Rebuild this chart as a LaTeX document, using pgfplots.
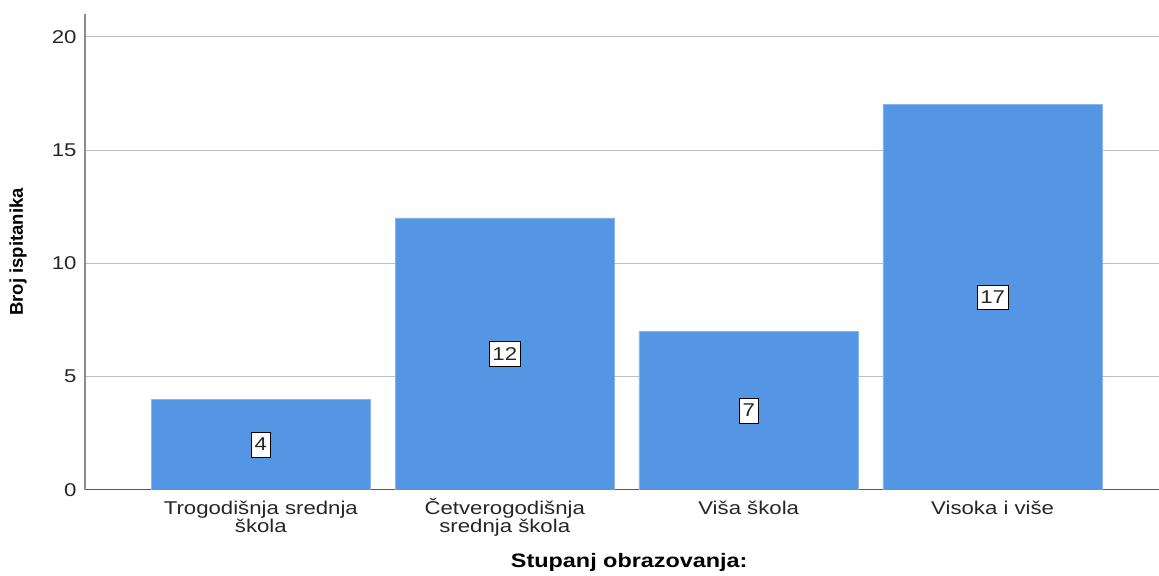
\documentclass[border=0pt]{standalone}
\usepackage{pgfplots}
\pgfplotsset{compat=1.18}
\usetikzlibrary{calc}
\usepackage{fontspec}
\setmainfont{Liberation Sans}
\newfontfamily\wide[FakeStretch=1.2]{Liberation Sans}
\definecolor{barblue}{RGB}{85,150,228}
\definecolor{gridgray}{RGB}{190,190,190}
\begin{document}
\begin{tikzpicture}
\begin{axis}[
    scale only axis,
    width=1074pt, height=476pt,
    xmin=-0.721, xmax=3.68,
    ymin=0, ymax=21,
    axis x line*=bottom, axis y line*=left,
    x axis line style={-, draw=black!65, line width=1pt},
    y axis line style={-, draw=black!45, line width=1.3pt},
    ytick={0,5,10,15,20},
    xtick={0,1,2,3},
    xticklabels={{\vphantom{Č}Trogodišnja srednja\\škola},{Četverogodišnja\\srednja škola},{\vphantom{Č}Viša škola},{\vphantom{Č}Visoka i više}},
    xticklabel style={align=center, text=black!85},
    yticklabel style={text=black!85},
    major tick length=0pt,
    ymajorgrids, grid style={gridgray, line width=0.8pt},
    tick label style={font=\wide\fontsize{18.5}{16.5}\selectfont},
    /pgf/number format/assume math mode=true,
    xticklabel shift=5pt, yticklabel shift=5pt,
    xlabel={\wide\bfseries Stupanj obrazovanja:},
    ylabel={\bfseries Broj ispitanika},
    xlabel style={font=\fontsize{19.5}{20}\selectfont, at={(rel axis cs:0.507,0)}, anchor=center, yshift=-73pt},
    ylabel style={font=\fontsize{18.5}{20}\selectfont, at={($(rel axis cs:0,0.5)+(-67pt,0)$)}, anchor=center},
]
\addplot[ybar, bar width=0.9, fill=barblue, draw=barblue!70!white, line width=0.5pt] coordinates {(0,4) (1,12) (2,7) (3,17)};
\addplot[draw=none, mark=none, nodes near coords, point meta=explicit symbolic,
    every node near coord/.append style={anchor=center, fill=white, draw=black, line width=0.6pt,
        inner xsep=3pt, inner ysep=6pt, font=\wide\fontsize{18.5}{18}\selectfont, text=black!85}]
    table[meta=lab] {
x y lab
0 2 4
1 6 12
2 3.5 7
3 8.5 17
};
\end{axis}
\path (current axis.south west) ++(-85pt,-84pt) (current axis.north east) ++(0,14pt);
\end{tikzpicture}
\end{document}
